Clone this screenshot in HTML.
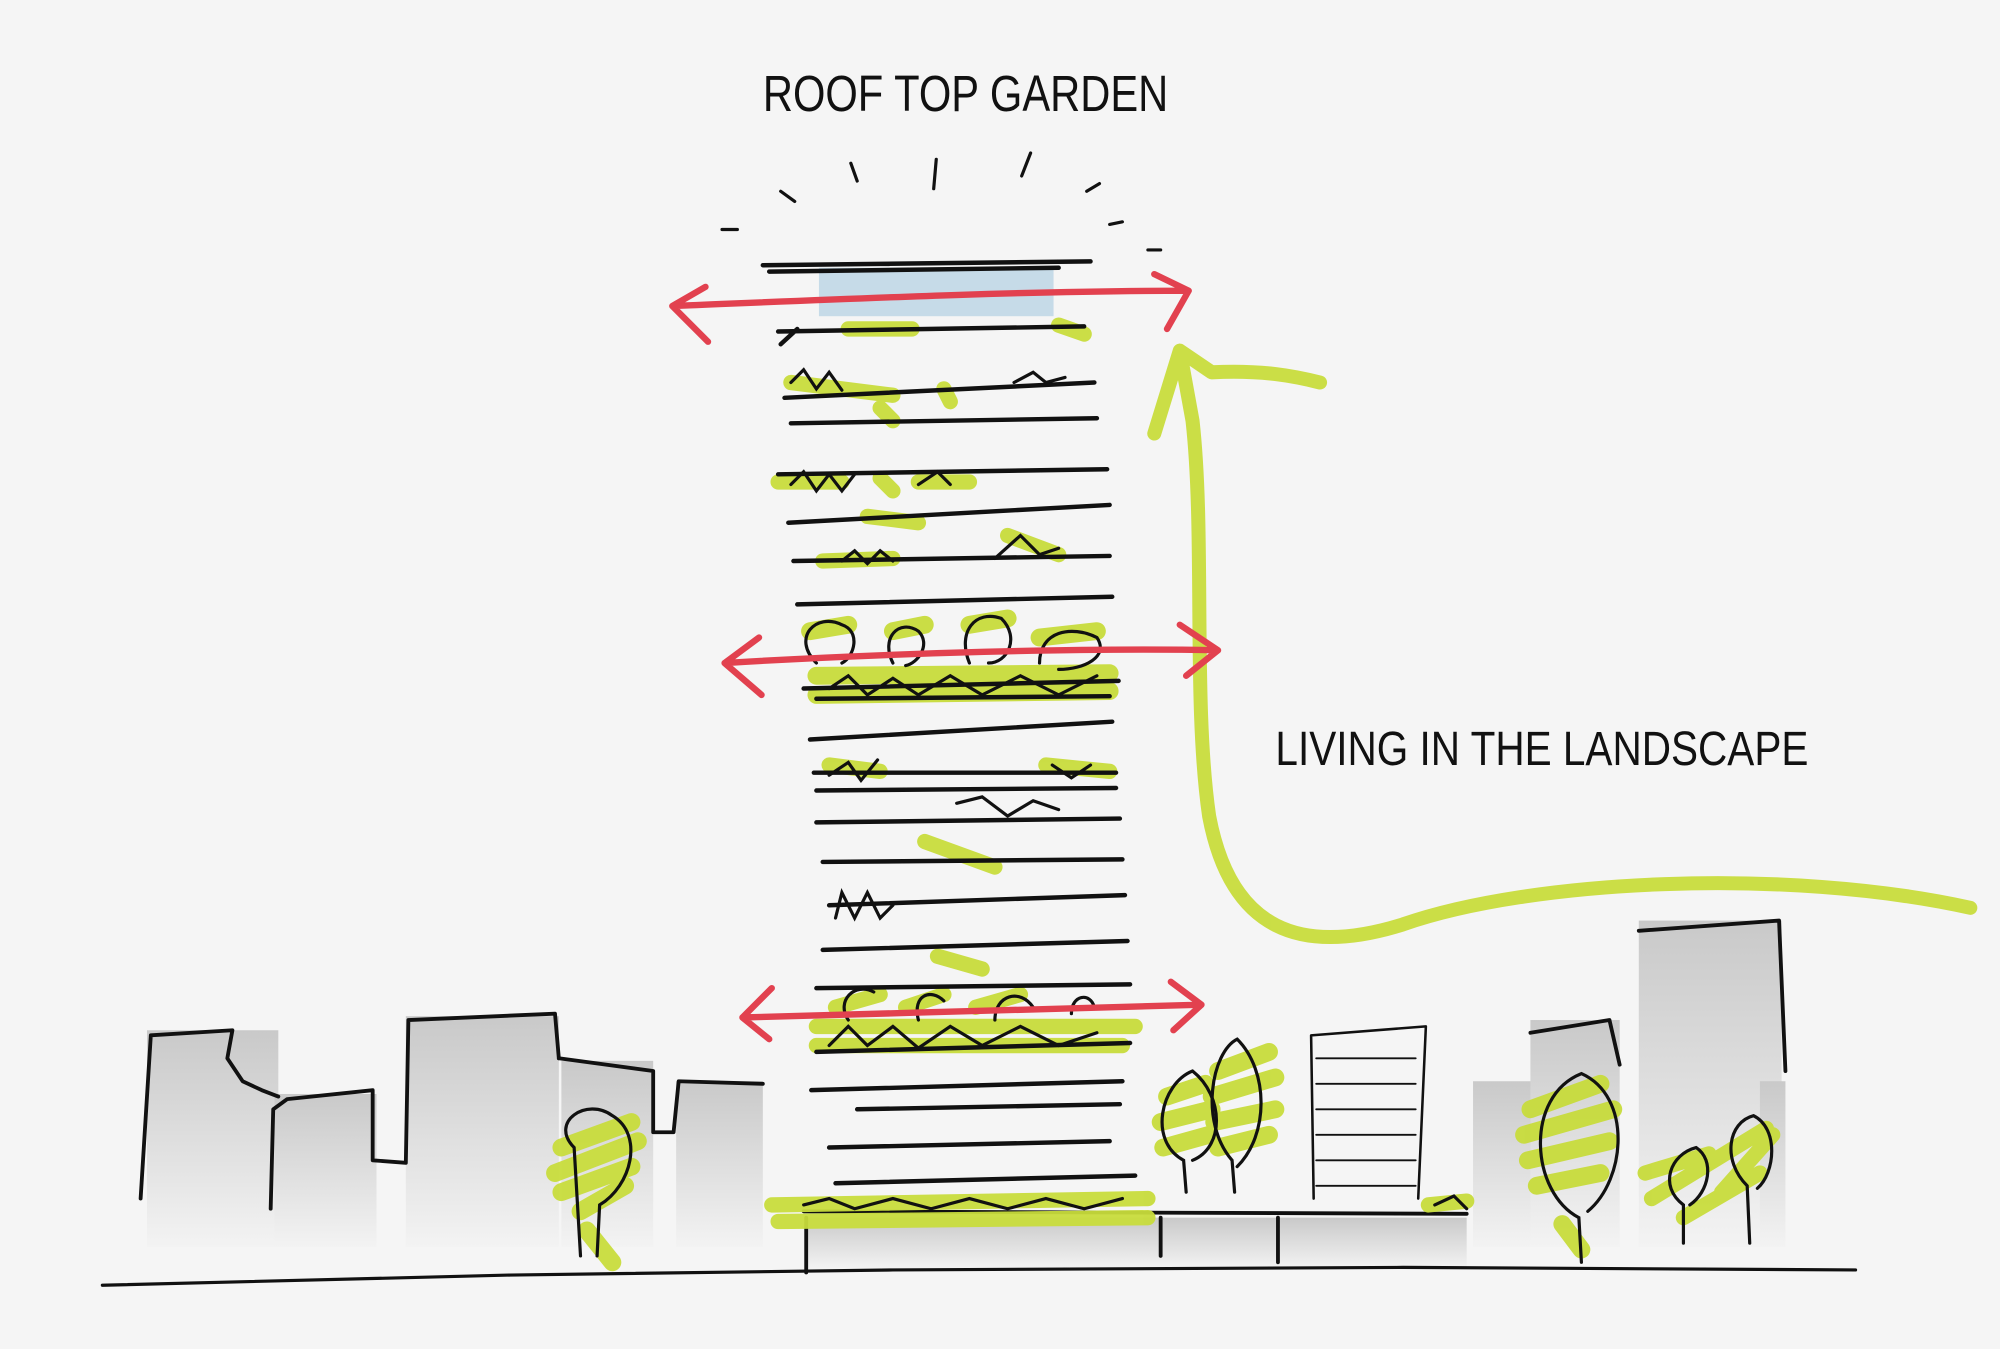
<!DOCTYPE html>
<html><head><meta charset="utf-8"><style>
html,body{margin:0;padding:0;background:#f5f5f5;}
svg{display:block;}
</style></head><body>
<svg width="2000" height="1349" viewBox="0 0 1568 1058" xmlns="http://www.w3.org/2000/svg">
<defs>
<linearGradient id="g" x1="0" y1="0" x2="0" y2="1">
<stop offset="0" stop-color="#c9c9c9"/><stop offset="1" stop-color="#f3f3f3"/>
</linearGradient>
</defs>
<rect width="1568" height="1058" fill="#f5f5f5"/>
<g fill="url(#g)">
<rect x="115" y="808" width="103" height="170"/>
<rect x="215" y="858" width="80" height="120"/>
<rect x="318" y="797" width="120" height="181"/>
<rect x="440" y="832" width="72" height="146"/>
<rect x="530" y="848" width="68" height="130"/>
<rect x="1155" y="848" width="50" height="130"/>
<rect x="1200" y="800" width="70" height="178"/>
<rect x="1285" y="722" width="112" height="256"/>
<rect x="1380" y="848" width="20" height="130"/>
<rect x="632" y="955" width="518" height="40"/>
</g>
<g fill="none" stroke="#111" stroke-width="3" stroke-linecap="round" stroke-linejoin="round">
<path d="M110 940 L118 812 L182 808 L178 830 L190 848 L205 855 L218 860"/>
<path d="M212 948 L214 870 L225 862 L292 855 L292 910 L318 912 L320 800 L435 795 L438 830"/>
<path d="M438 830 L512 840 L512 888 L528 888 L532 848 L598 850"/>
<path d="M1200 810 L1262 800 L1270 835"/>
<path d="M1285 730 L1395 722 L1400 840"/>
<path d="M1030 940 L1028 812 L1118 805 L1112 940" stroke-width="2"/>
<path d="M1032 830 L1110 830 M1032 850 L1110 850 M1032 870 L1110 870 M1032 890 L1110 890 M1032 910 L1110 910 M1032 930 L1110 930" stroke-width="1.5"/>
<path d="M80 1008 L400 1000 L700 996 L1100 994 L1455 996" stroke-width="2.5"/>
<path d="M630 950 L1150 952 M632 955 L632 998 M910 955 L910 985 M1002 955 L1002 990"/>
</g>
<g fill="none" stroke="#c8dc3c" stroke-linecap="round" stroke-linejoin="round" opacity="0.95">
<path d="M440 900 L495 880 M435 920 L500 895 M440 935 L495 915 M455 950 L490 930 M460 965 L480 990" stroke-width="14"/>
<path d="M915 860 L945 850 M910 880 L950 870 M912 900 L948 890 M955 840 L995 825 M950 860 L1000 845 M952 880 L1000 870 M955 900 L995 890" stroke-width="14"/>
<path d="M1200 870 L1255 850 M1195 890 L1265 870 M1198 910 L1262 895 M1205 930 L1255 920 M1225 960 L1240 980" stroke-width="14"/>
<path d="M1290 920 L1340 905 M1295 940 L1385 885 M1320 955 L1380 920 M1350 935 L1390 890" stroke-width="12"/>
<path d="M605 945 L900 940 M610 958 L900 955 M1120 945 L1150 942" stroke-width="12"/>
<path d="M640 805 L890 805 M640 820 L880 820" stroke-width="12"/>
<path d="M640 530 L870 528 M640 545 L870 542 M635 495 L665 490 M700 495 L725 490 M760 490 L790 485 M815 500 L860 495" stroke-width="14"/>
<path d="M655 790 L690 780 M710 790 L740 780 M765 790 L800 780" stroke-width="12"/>
<path d="M665 258 L715 258 M830 255 L850 262 M620 300 L700 310 M690 320 L700 330 M740 305 L745 315 M610 378 L660 378 M690 375 L700 385 M720 378 L760 378 M680 405 L720 410 M790 420 L830 435 M645 440 L700 438 M650 600 L690 605 M820 600 L870 605 M725 660 L780 680 M735 750 L770 760" stroke-width="12"/>
<path d="M1545 712 C1400 680 1200 690 1100 725 C1020 750 965 730 948 640 C935 550 945 420 935 330 L925 275 M905 340 L925 275 L950 292 C990 290 1015 295 1035 300" stroke-width="11"/>
</g>
<g fill="none" stroke="#111" stroke-width="2.5" stroke-linecap="round">
<path d="M455 985 L450 900 C430 880 460 860 480 875 C505 890 495 930 470 945 L468 985"/>
<path d="M930 935 L928 910 C900 895 910 850 935 840 C960 860 960 900 935 910"/>
<path d="M968 935 L966 910 C940 880 950 825 970 815 C995 840 995 890 970 915"/>
<path d="M1240 990 L1238 955 C1200 935 1195 860 1240 842 C1280 860 1275 925 1245 950"/>
<path d="M1320 975 L1320 945 C1300 930 1310 905 1330 900 C1345 910 1340 935 1325 945"/>
<path d="M1372 975 L1370 930 C1350 910 1355 880 1375 875 C1395 885 1392 920 1378 932"/>
<path d="M640 520 C620 500 640 480 660 490 C675 495 670 515 660 520 M700 520 C690 500 705 485 720 495 C730 505 720 520 710 522 M760 520 C750 495 765 478 785 485 C800 500 790 520 775 520 M815 520 C815 495 840 490 860 500 C870 515 850 525 830 525"/>
<path d="M665 800 C655 785 670 770 685 778 M720 800 C715 780 730 775 740 785 M780 800 C780 780 800 775 810 790 M840 795 C840 780 855 778 858 790"/>
</g>
<rect x="642" y="210" width="184" height="38" fill="#c6dbe8"/>
<g fill="none" stroke="#111" stroke-width="3.5" stroke-linecap="round">
<path d="M598 208 L855 205 M603 213 L830 210"/>
<path d="M610 260 L850 256 M612 270 L625 258"/>
<path d="M615 312 L858 300 M620 332 L860 328"/>
<path d="M610 372 L868 368 M618 410 L870 396"/>
<path d="M622 440 L870 436"/>
<path d="M625 474 L872 468"/>
<path d="M630 540 L877 534 M640 548 L870 546"/>
<path d="M635 580 L872 566"/>
<path d="M638 606 L875 606 M640 620 L875 618"/>
<path d="M640 645 L878 642"/>
<path d="M645 676 L880 674"/>
<path d="M650 710 L882 702"/>
<path d="M645 745 L884 738"/>
<path d="M640 775 L886 772"/>
<path d="M640 825 L886 818"/>
<path d="M636 855 L880 848"/>
<path d="M672 870 L878 866"/>
<path d="M650 900 L870 895"/>
<path d="M655 928 L890 922"/>
</g>
<g fill="none" stroke="#111" stroke-width="2.5" stroke-linecap="round">
<path d="M620 300 L630 290 L640 305 L650 292 L660 306 M795 300 L810 292 L820 300 L835 296"/>
<path d="M620 380 L630 370 L640 385 L650 372 L660 385 L670 372 M720 380 L735 370 L745 380"/>
<path d="M660 440 L670 432 L680 442 L690 432 L700 440 M780 438 L800 420 L815 435 L830 430"/>
<path d="M650 540 L665 530 L680 545 L700 532 L720 545 L745 530 L770 545 L800 530 L830 545 L860 530"/>
<path d="M650 608 L665 598 L675 612 L688 596 M825 600 L840 610 L855 600"/>
<path d="M750 630 L770 625 L790 640 L810 628 L830 635"/>
<path d="M655 720 L660 700 L670 720 L680 700 L690 720 L700 710"/>
<path d="M650 820 L665 805 L680 820 L700 805 L720 822 L745 805 L770 820 L800 805 L830 820 L860 810"/>
<path d="M630 945 L650 940 L670 948 L700 940 L730 948 L760 940 L790 948 L820 940 L850 948 L880 940 M1125 945 L1140 938 L1150 948"/>
</g>
<g stroke="#111" stroke-width="2.5" stroke-linecap="round">
<path d="M566 180 L578 180 M612 150 L623 158 M667 128 L672 142 M734 125 L732 148 M808 120 L801 138 M852 150 L862 144 M870 176 L880 174 M900 196 L910 196"/>
</g>
<g fill="none" stroke="#e2414f" stroke-width="5" stroke-linecap="round" stroke-linejoin="round">
<path d="M527 240 C650 235 800 228 932 228 M553 225 L527 240 L555 268 M905 215 L932 228 L915 258"/>
<path d="M568 520 C700 512 850 508 955 510 M595 500 L568 520 L597 545 M925 490 L955 510 L930 530"/>
<path d="M582 798 C700 795 850 790 942 788 M605 775 L582 798 L603 815 M918 770 L942 788 L920 808"/>
</g>
<text x="598" y="87" font-family="Liberation Sans Narrow, Liberation Sans, sans-serif" font-size="40" fill="#111" textLength="318" lengthAdjust="spacingAndGlyphs">ROOF TOP  GARDEN</text>
<text x="1000" y="600" font-family="Liberation Sans Narrow, Liberation Sans, sans-serif" font-size="38" fill="#111" textLength="418" lengthAdjust="spacingAndGlyphs">LIVING IN THE LANDSCAPE</text>
</svg>
</body></html>
